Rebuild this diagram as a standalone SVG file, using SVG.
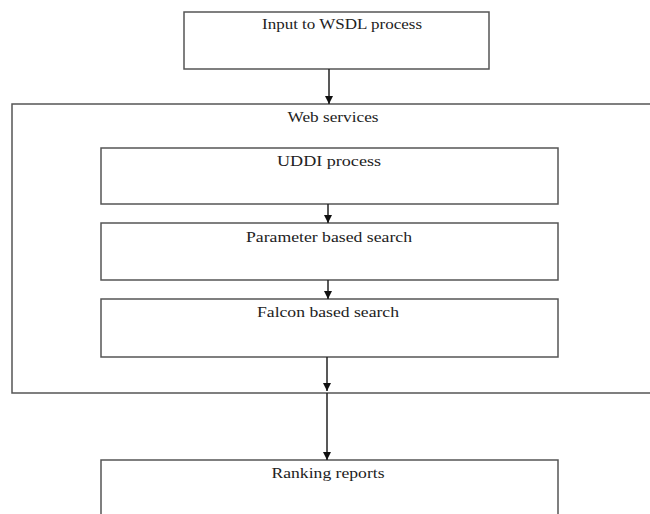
<svg xmlns="http://www.w3.org/2000/svg" width="650" height="514" viewBox="0 0 650 514">
<defs>
<style>
.box{fill:#fff;stroke:#555;stroke-width:1.5}
.lbl{font-family:"Liberation Serif","Times New Roman",serif;font-size:15px;fill:#222;text-anchor:middle}
.conn{stroke:#222;stroke-width:1.5;fill:none;marker-end:url(#ah)}
</style>
<marker id="ah" viewBox="0 0 8 8" refX="8" refY="4" markerWidth="8" markerHeight="8" markerUnits="userSpaceOnUse" orient="auto">
<path d="M0,0 L8,4 L0,8 z" fill="#111"/>
</marker>
</defs>
<rect width="650" height="514" fill="#fff"/>
<g id="web-services">
<path class="box" d="M662,104 H12 V393 H662"/>
<text class="lbl" x="333" y="122" textLength="91" lengthAdjust="spacingAndGlyphs">Web services</text>
</g>
<g id="input-wsdl">
<rect class="box" x="184" y="12" width="305" height="57"/>
<text class="lbl" x="342" y="29" textLength="160" lengthAdjust="spacingAndGlyphs">Input to WSDL process</text>
</g>
<g id="uddi">
<rect class="box" x="101" y="148" width="457" height="56"/>
<text class="lbl" x="329" y="166" textLength="104" lengthAdjust="spacingAndGlyphs">UDDI process</text>
</g>
<g id="parameter">
<rect class="box" x="101" y="223" width="457" height="57"/>
<text class="lbl" x="329" y="242" textLength="166" lengthAdjust="spacingAndGlyphs">Parameter based search</text>
</g>
<g id="falcon">
<rect class="box" x="101" y="299" width="457" height="58"/>
<text class="lbl" x="328" y="317" textLength="142" lengthAdjust="spacingAndGlyphs">Falcon based search</text>
</g>
<g id="ranking">
<rect class="box" x="101" y="460" width="457" height="70"/>
<text class="lbl" x="328" y="478" textLength="113" lengthAdjust="spacingAndGlyphs">Ranking reports</text>
</g>
<g id="connectors">
<line class="conn" x1="329" y1="69" x2="329" y2="104"/>
<line class="conn" x1="328" y1="204" x2="328" y2="223"/>
<line class="conn" x1="328" y1="280" x2="328" y2="299"/>
<line class="conn" x1="327" y1="357" x2="327" y2="391"/>
<line class="conn" x1="327" y1="393" x2="327" y2="460"/>
</g>
</svg>
